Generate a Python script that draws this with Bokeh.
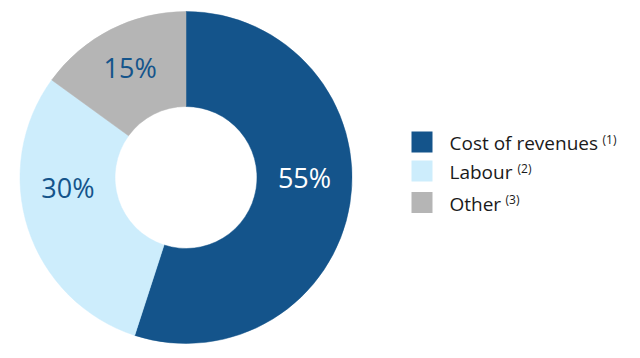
import math
from bokeh.plotting import figure
from bokeh.models import Range1d, ColumnDataSource
from bokeh.core.properties import value
from bokeh.embed import file_html
from bokeh.resources import INLINE

# ---- data ----
categories = ["Cost of revenues", "Labour", "Other"]
notes = ["(1)", "(2)", "(3)"]
shares = [55, 30, 15]
colors = ["#14548B", "#CDEDFC", "#B5B5B5"]
label_colors = ["#FFFFFF", "#14548B", "#14548B"]

W, H = 624, 350
p = figure(width=W, height=H, output_backend="svg", toolbar_location=None,
           x_range=Range1d(0, W), y_range=Range1d(-H, 0),
           min_border=0, outline_line_color=None)
p.axis.visible = False
p.grid.visible = False
p.background_fill_color = "white"

cx, cy = 185.5, -177.0
r_in, r_out = 71, 166

total = sum(shares)
starts, ends, mids = [], [], []
a = math.pi / 2
for s in shares:
    da = 2 * math.pi * s / total
    starts.append(a)
    ends.append(a - da)
    mids.append(a - da / 2)
    a -= da

src = ColumnDataSource(dict(start=starts, end=ends, color=colors))
p.annular_wedge(x=cx, y=cy, inner_radius=r_in, outer_radius=r_out,
                start_angle="start", end_angle="end", direction="clock",
                fill_color="color", line_color="color", line_width=0.5, source=src)

# label placement nudges (style)
nudge = [math.radians(9), math.radians(-13), math.radians(0)]
rad = [118.5, 118.5, 123]
lx = [cx + r * math.cos(m + n) for m, n, r in zip(mids, nudge, rad)]
ly = [cy + r * math.sin(m + n) for m, n, r in zip(mids, nudge, rad)]
p.text(x=lx, y=ly, text=[f"{s}%" for s in shares], text_color=label_colors,
       text_font=value("Open Sans"), text_font_size="27px",
       text_align="center", text_baseline="middle")

# legend
lg_x = 421.5
lg_y = [-141.5, -170.5, -202.0]
p.rect(x=[lg_x] * 3, y=lg_y, width=21, height=21, fill_color=colors, line_color=None)
p.text(x=[449] * 3, y=[y - 1 for y in lg_y], text=categories, text_color="#1A1A1A",
       text_font=value("Open Sans"), text_font_size="19px",
       text_align="left", text_baseline="middle")
sup_x = [602, 517, 505]
p.text(x=sup_x, y=[y + 3 for y in lg_y], text=notes, text_color="#1A1A1A",
       text_font=value("Open Sans"), text_font_size="12px",
       text_align="left", text_baseline="middle")

open("out.html", "w").write(file_html(p, INLINE))
